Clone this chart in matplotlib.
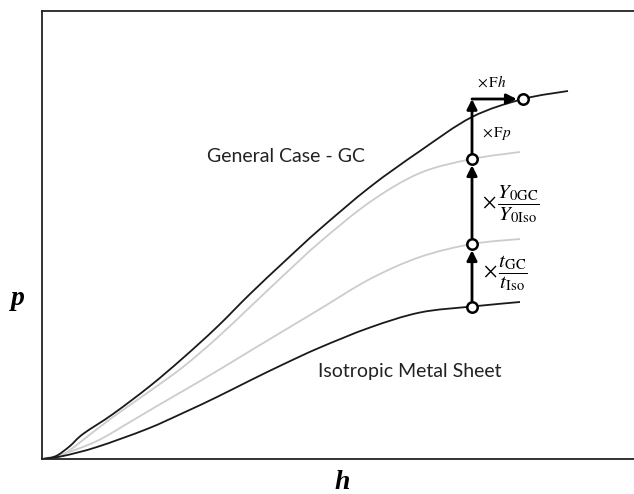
import matplotlib
matplotlib.use("Agg")
import matplotlib.pyplot as plt
from matplotlib.path import Path
from matplotlib.patches import PathPatch

plt.rcParams['mathtext.fontset'] = 'stix'

# load-displacement curves (arbitrary units)
h_gc = [0, 0.08, 0.16, 0.28, 0.41, 0.71, 1.08, 1.41, 1.75, 2.08, 2.43, 2.78, 3.28, 3.78, 4.30, 4.81, 5.26]
p_gc = [0, 0.01, 0.04, 0.13, 0.25, 0.45, 0.73, 1.01, 1.32, 1.65, 1.98, 2.30, 2.72, 3.08, 3.42, 3.60, 3.68]

h_y = [0, 0.16, 0.28, 0.41, 0.71, 1.08, 1.41, 1.75, 2.08, 2.43, 2.78, 3.28, 3.78, 4.30, 4.78]
p_y = [0, 0.02, 0.09, 0.19, 0.42, 0.68, 0.92, 1.21, 1.52, 1.85, 2.17, 2.57, 2.86, 3.00, 3.07]

h_t = [0, 0.21, 0.55, 0.88, 1.15, 1.41, 1.75, 2.08, 2.43, 2.78, 3.28, 3.78, 4.30, 4.78]
p_t = [0, 0.05, 0.18, 0.37, 0.53, 0.68, 0.88, 1.08, 1.29, 1.50, 1.80, 2.02, 2.15, 2.20]

h_iso = [0, 0.21, 0.55, 1.05, 1.41, 1.75, 2.08, 2.43, 2.78, 3.28, 3.78, 4.30, 4.78]
p_iso = [0, 0.03, 0.12, 0.30, 0.46, 0.62, 0.785, 0.955, 1.115, 1.315, 1.465, 1.525, 1.57]

# point on each curve where the scaling steps are shown
h_step = 4.30
p_steps = [p_iso[11], p_t[12], p_y[13], p_gc[15]]
h_end = h_gc[15]


def smooth_path(xs, ys):
    # Catmull-Rom through the points, written as cubic Bezier segments
    pts = list(zip(xs, ys))
    n = len(pts)
    verts = [pts[0]]
    codes = [Path.MOVETO]
    for i in range(n - 1):
        p0 = pts[max(i - 1, 0)]
        p1 = pts[i]
        p2 = pts[i + 1]
        p3 = pts[min(i + 2, n - 1)]
        c1 = (p1[0] + (p2[0] - p0[0]) / 6, p1[1] + (p2[1] - p0[1]) / 6)
        c2 = (p2[0] - (p3[0] - p1[0]) / 6, p2[1] - (p3[1] - p1[1]) / 6)
        verts += [c1, c2, p2]
        codes += [Path.CURVE4] * 3
    return Path(verts, codes)


fig = plt.figure(figsize=(6.34, 4.94), dpi=100)
ax = fig.add_axes([42/634, 35/494, 1 - 42/634, 448/494])

gray = '#cccccc'
dark = '#1a1a1a'
for xs, ys, c in [(h_t, p_t, gray), (h_y, p_y, gray),
                  (h_iso, p_iso, dark), (h_gc, p_gc, dark)]:
    ax.add_patch(PathPatch(smooth_path(xs, ys), fc='none', ec=c, lw=1.3))

ax.set_xlim(0, 5.92)
ax.set_ylim(0, 4.48)
ax.set_xticks([])
ax.set_yticks([])
ax.spines['right'].set_visible(False)
for s in ['left', 'top', 'bottom']:
    ax.spines[s].set_linewidth(1.3)
    ax.spines[s].set_color('#222222')

arrow = dict(arrowstyle='-|>', lw=2.0, color='k', mutation_scale=15,
             shrinkA=0)
# vertical steps
for i in range(3):
    sb = 0 if i == 2 else 4.5
    ax.annotate('', xy=(h_step, p_steps[i + 1]), xytext=(h_step, p_steps[i]),
                arrowprops=dict(arrow, shrinkB=sb), zorder=4)
# horizontal step
ax.annotate('', xy=(h_end, p_steps[3]), xytext=(h_step, p_steps[3]),
            arrowprops=dict(arrow, shrinkB=4.5), zorder=4)

ax.plot([h_step] * 3 + [h_end], p_steps[:3] + [p_steps[3]], 'o',
        ms=7.5, mfc='white', mec='k', mew=1.8, zorder=5)

ax.text(4.35, 3.77, r'$\times\,\mathrm{F}h$', fontsize=11, ha='left', va='center')
ax.text(4.40, 3.26, r'$\times\,\mathrm{F}p$', fontsize=11, ha='left', va='center')
ax.text(4.40, 2.55, r'$\times\,\dfrac{Y_{0\mathrm{GC}}}{Y_{0\mathrm{Iso}}}$',
        fontsize=15, ha='left', va='center')
ax.text(4.41, 1.86, r'$\times\,\dfrac{t_{\mathrm{GC}}}{t_{\mathrm{Iso}}}$',
        fontsize=15, ha='left', va='center')

ax.text(1.65, 3.02, 'General Case - GC', fontsize=14, family='Lato',
        color='#222222', ha='left', va='center')
ax.text(2.76, 0.87, 'Isotropic Metal Sheet', fontsize=14, family='Lato',
        color='#222222', ha='left', va='center')

fig.text(18/634, 1 - 298/494, 'p', fontsize=20, family='Liberation Serif',
         weight='bold', style='italic', ha='center', va='center')
fig.text(342/634, 1 - 482/494, 'h', fontsize=20, family='Liberation Serif',
         weight='bold', style='italic', ha='center', va='center')

fig.savefig('out.png', dpi=100)
